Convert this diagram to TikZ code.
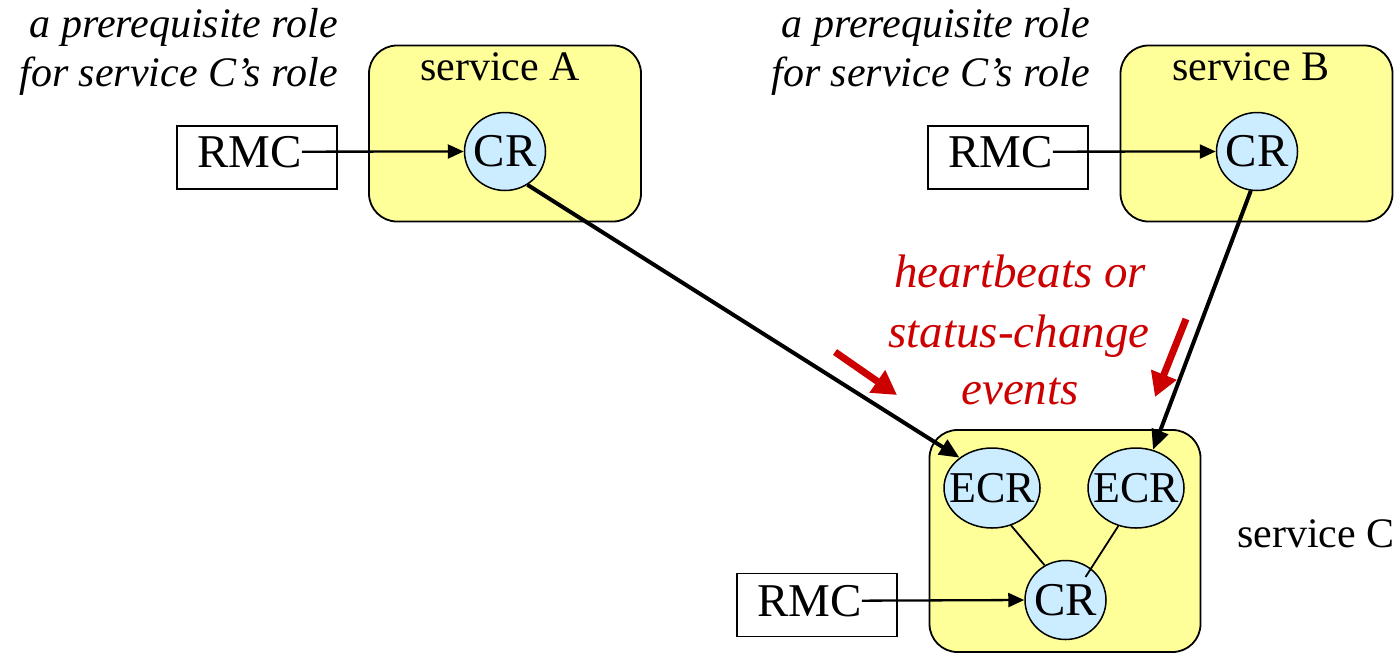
\documentclass[tikz,border=0pt]{standalone}
\usepackage{fontspec}
\setmainfont{Liberation Serif}
\usetikzlibrary{arrows.meta,shapes.geometric,calc}
\definecolor{boxyellow}{HTML}{FFFF99}
\definecolor{crblue}{HTML}{CCECFF}
\definecolor{evred}{HTML}{CC0000}
\begin{document}
\begin{tikzpicture}[x=1pt,y=-1pt,
  svc/.style={draw, line width=1.8pt, fill=boxyellow, rounded corners=28pt, inner sep=0pt},
  rmcbox/.style={draw, line width=1.5pt, minimum width=160pt, minimum height=63pt, inner sep=0pt},
  rmctext/.style={inner sep=0pt, font=\fontsize{47}{50}\selectfont},
  crnode/.style={ellipse, draw, line width=1.5pt, fill=crblue, inner sep=0pt, font=\fontsize{47}{50}\selectfont},
  ecrnode/.style={ellipse, draw, line width=1.5pt, fill=crblue, inner sep=0pt, minimum width=96pt, minimum height=80pt, font=\fontsize{44}{48}\selectfont},
  lbl/.style={inner sep=0pt, font=\fontsize{42}{46}\selectfont},
  itl/.style={inner sep=0pt, font=\fontsize{42}{46}\selectfont\itshape},
  redtxt/.style={inner sep=0pt, text=evred, font=\fontsize{47}{50}\selectfont\itshape},
  thinarrow/.style={line width=2.3pt, -{Triangle[length=16pt,width=14pt]}},
  thickarrow/.style={line width=4pt, -{Triangle[length=20pt,width=17pt]}},
  redarrow/.style={line width=7pt, evred, -{Triangle[length=24pt,width=26pt]}},
  link/.style={line width=1.8pt}
]
\useasboundingbox (0,0) rectangle (1399,654);

% service boxes
\node[svc, minimum width=272pt, minimum height=176pt] (svcA) at (505,133.5) {};
\node[svc, minimum width=272pt, minimum height=176pt] (svcB) at (1256.5,133.5) {};
\node[svc, minimum width=271pt, minimum height=222pt] (svcC) at (1065,541) {};

% service labels
\node[lbl, anchor=base] (labA) at (500,80) {service A};
\node[lbl, anchor=base] (labB) at (1251,80) {service B};
\node[lbl, anchor=base west] (labC) at (1237,547) {service C};

% prerequisite texts
\node[itl, anchor=base east] (preA1) at (338,37) {a prerequisite role};
\node[itl, anchor=base east] (preA2) at (338,86) {for service C’s role};
\node[itl, anchor=base east] (preB1) at (1090,37) {a prerequisite role};
\node[itl, anchor=base east] (preB2) at (1090,86) {for service C’s role};

% RMC boxes
\node[rmcbox] (rmcA) at (257,157.5) {};
\node[rmctext, anchor=base west] (rmcAt) at (197,167) {RMC};
\node[rmcbox] (rmcB) at (1008,157.5) {};
\node[rmctext, anchor=base west] (rmcBt) at (948,167) {RMC};
\node[rmcbox] (rmcC) at (817,605) {};
\node[rmctext, anchor=base west] (rmcCt) at (757,616) {RMC};

% CR / ECR nodes
\node[crnode, minimum width=81pt, minimum height=78pt] (crA) at (505,151.5) {\makebox[0pt]{CR}};
\node[crnode, minimum width=81pt, minimum height=78pt] (crB) at (1257,151.5) {\makebox[0pt]{CR}};
\node[crnode, minimum width=81pt, minimum height=79pt] (crC) at (1065.5,600) {\makebox[0pt]{CR}};
\node[ecrnode] (ecrL) at (992,488) {\makebox[0pt]{ECR}};
\node[ecrnode] (ecrR) at (1136,488) {\makebox[0pt]{ECR}};

% connectors
\draw[thinarrow] (rmcAt.east) -- (crA.west);
\draw[thinarrow] (rmcBt.east) -- (crB.west);
\draw[thinarrow] (rmcCt.east) -- (crC.west);
\draw[thickarrow] (crA.-56) -- (ecrL.137);
\draw[thickarrow] (crB.-99) -- (ecrR.66);
\draw[link] (ecrL.-63) -- (crC.121);
\draw[link] (ecrR.-115) -- ($(crC.center)!0.75!(crC.49)$);

% red annotation
\node[redtxt, anchor=base] (ev1) at (1020,287) {heartbeats or};
\node[redtxt, anchor=base] (ev2) at (1019,347) {status-change};
\node[redtxt, anchor=base] (ev3) at (1020,404) {events};
\coordinate (r1s) at (835,352);
\coordinate (r1e) at (897,395);
\coordinate (r2s) at (1186,319);
\coordinate (r2e) at (1155,397);
\draw[redarrow] (r1s) -- (r1e);
\draw[redarrow] (r2s) -- (r2e);
\end{tikzpicture}
\end{document}
